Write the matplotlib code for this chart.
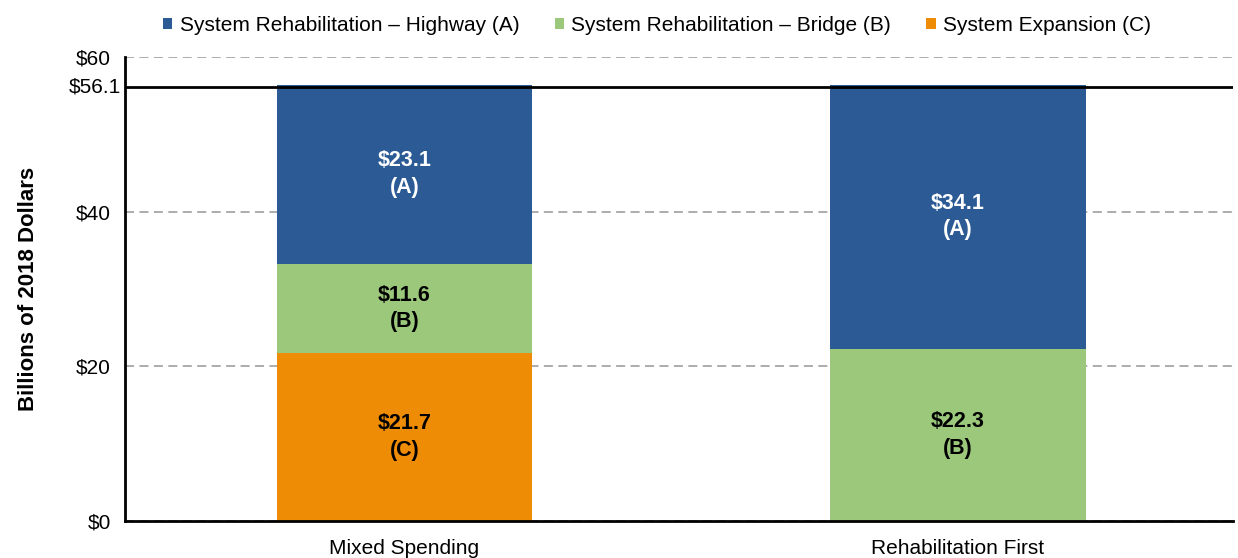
"""
Highway investment scenarios: stacked spending by category (billions of 2018 dollars).
"""

import matplotlib.pyplot as plt
from matplotlib.patches import Patch
import numpy as np

plt.rcParams["font.family"] = ["Liberation Sans", "DejaVu Sans"]

# ---------------------------------------------------------------------
# Data
# ---------------------------------------------------------------------
scenarios = ["Mixed Spending", "Rehabilitation First"]
expansion = [21.7, 0.0]     # (C)
bridge = [11.6, 22.3]       # (B)
highway = [23.1, 34.1]      # (A)
total_level = 56.1
y_ticks = [0, 20, 40, 60]

series = [
    ("System Expansion (C)", "C", expansion, "#EF8C05", "black"),
    ("System Rehabilitation \u2013 Bridge (B)", "B", bridge, "#9BC87B", "black"),
    ("System Rehabilitation \u2013 Highway (A)", "A", highway, "#2B5A95", "white"),
]

# ---------------------------------------------------------------------
# Figure
# ---------------------------------------------------------------------
fig = plt.figure(figsize=(12.38, 5.58), dpi=100)
ax = fig.add_axes([0.101, 0.066, 0.895, 0.832])

x = np.arange(len(scenarios))
bottom = np.zeros(len(scenarios))
for name, tag, vals, color, txt_color in series:
    vals = np.array(vals)
    ax.bar(x, vals, width=0.462, bottom=bottom, color=color, zorder=2)
    for xi, b, v in zip(x, bottom, vals):
        if v <= 0:
            continue
        ax.text(xi, b + v / 2, f"${v:.1f}\n({tag})", ha="center", va="center",
                fontsize=15.5, fontweight="bold", color=txt_color,
                linespacing=1.34, zorder=3)
    bottom += vals

# total funding level
ax.axhline(total_level, color="black", lw=2, zorder=4)
ax.text(-0.004, total_level, f"${total_level:.1f}", transform=ax.get_yaxis_transform(),
        ha="right", va="center", fontsize=15)

ax.set_xlim(-0.505, 1.497)
ax.set_ylim(0, 60)
ax.set_yticks(y_ticks)
ax.set_yticklabels([f"${t}" for t in y_ticks], fontsize=15)
ax.set_xticks(x)
ax.set_xticklabels(scenarios, fontsize=15)
ax.tick_params(axis="y", length=0, pad=10)
ax.tick_params(axis="x", length=0, pad=13)

ax.set_axisbelow(True)
ax.yaxis.grid(True, color="#A6A6A6", lw=1.3, linestyle=(0, (5, 3)))

for side in ["top", "right"]:
    ax.spines[side].set_visible(False)
for side in ["left", "bottom"]:
    ax.spines[side].set_linewidth(2)

ax.set_ylabel("Billions of 2018 Dollars", fontsize=16, fontweight="bold")
ax.yaxis.set_label_coords(-0.078, 0.5)

handles = [Patch(facecolor=c, label=n) for n, _, _, c, _ in series[::-1]]
fig.legend(handles=handles, loc="center", bbox_to_anchor=(0.5307, 0.955), ncol=3,
           frameon=False, fontsize=15, handlelength=0.45, handleheight=0.45,
           handletextpad=0.35, columnspacing=1.7)

fig.savefig("out.png", dpi=100)
